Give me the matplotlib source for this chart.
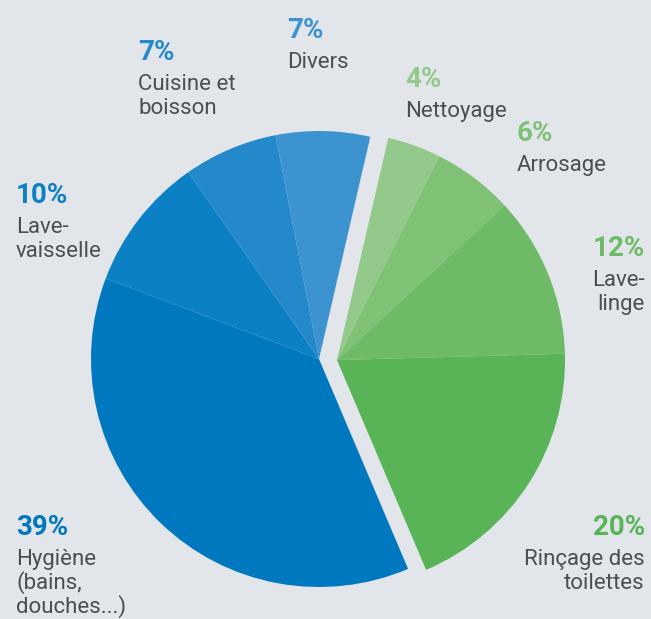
import matplotlib
matplotlib.use("Agg")
import matplotlib.pyplot as plt

# ---- data ----
blue_categories = ["Divers", "Cuisine et\nboisson", "Lave-\nvaisselle", "Hygiène\n(bains,\ndouches...)"]
blue_values = [7, 7, 10, 39]
green_categories = ["Nettoyage", "Arrosage", "Lave-\nlinge", "Rinçage des\ntoilettes"]
green_values = [4, 6, 12, 20]

blue_colors = ["#3d93d0", "#2489ca", "#0b80c5", "#0078c0"]
green_colors = ["#93c98a", "#7fc175", "#6eba67", "#58b457"]

BG = "#e2e6eb"
TXT = "#4b4f55"
W, H = 651, 619

total = sum(blue_values) + sum(green_values)

fig = plt.figure(figsize=(W / 100, H / 100), dpi=100, facecolor=BG)
ax = fig.add_axes([0, 0, 1, 1])
ax.set_facecolor(BG)

split_top = 13  # degrees clockwise from top where the groups split
start = 90 - split_top

ax.pie([v / total for v in blue_values], center=(319, H - 359), radius=228,
       startangle=start, counterclock=True, normalize=False,
       colors=blue_colors, wedgeprops=dict(linewidth=0))
ax.pie([v / total for v in green_values], center=(337, H - 360), radius=228,
       startangle=start, counterclock=False, normalize=False,
       colors=green_colors, wedgeprops=dict(linewidth=0))

ax.set_xlim(0, W)
ax.set_ylim(0, H)
ax.set_aspect("equal")
ax.axis("off")

# label layout: (x, baseline of percentage, alignment) in pixel coords from top
blue_layout = [(287, 38, "left"), (138, 60, "left"), (16, 203, "left"), (16, 535, "left")]
green_layout = [(405, 87, "left"), (517, 141, "left"), (645, 256, "right"), (645, 535, "right")]

FONT = "Roboto"
PCT_SIZE = 20
LBL_SIZE = 16
LINE_STEP = 24


def draw_label(x, yb, ha, value, name, color):
    ax.text(x, H - yb, f"{value}%", ha=ha, va="baseline", fontsize=PCT_SIZE,
            fontweight="bold", color=color, family=FONT)
    for i, line in enumerate(name.split("\n")):
        ax.text(x, H - (yb + 30 + i * LINE_STEP), line, ha=ha, va="baseline",
                fontsize=LBL_SIZE, color=TXT, family=FONT)


for (x, yb, ha), v, n, c in zip(blue_layout, blue_values, blue_categories, blue_colors):
    draw_label(x, yb, ha, v, n, c)
for (x, yb, ha), v, n, c in zip(green_layout, green_values, green_categories, green_colors):
    draw_label(x, yb, ha, v, n, c)

fig.savefig("out.png", dpi=100, facecolor=BG)
